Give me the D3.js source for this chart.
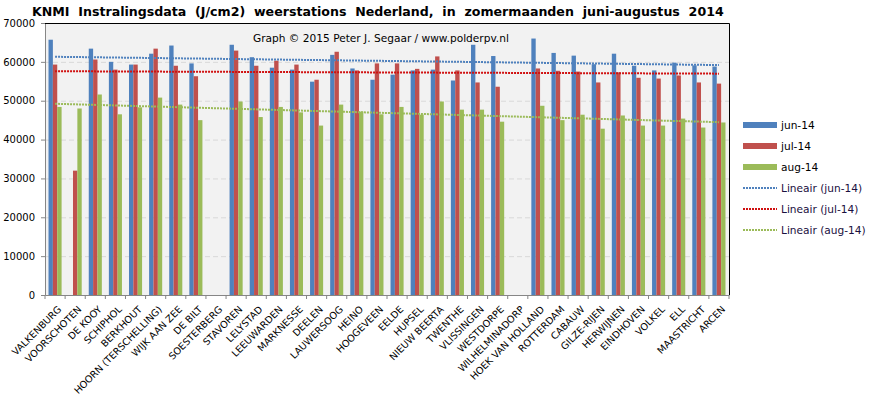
<!DOCTYPE html>
<html>
<head>
<meta charset="utf-8">
<script src="https://cdn.jsdelivr.net/npm/d3@7"></script>
<style>
  body { margin: 0; background: #fff; }
  svg text { font-family: "DejaVu Sans", Verdana, sans-serif; }
</style>
</head>
<body>
<div class="chart"></div>
<script>
// ---------------------------- DATA
var stations = ["VALKENBURG", "VOORSCHOTEN", "DE KOOY", "SCHIPHOL", "BERKHOUT", "HOORN (TERSCHELLING)",
  "WIJK AAN ZEE", "DE BILT", "SOESTERBERG", "STAVOREN", "LELYSTAD", "LEEUWARDEN", "MARKNESSE", "DEELEN",
  "LAUWERSOOG", "HEINO", "HOOGEVEEN", "EELDE", "HUPSEL", "NIEUW BEERTA", "TWENTHE", "VLISSINGEN",
  "WESTDORPE", "WILHELMINADORP", "HOEK VAN HOLLAND", "ROTTERDAM", "CABAUW", "GILZE-RIJEN", "HERWIJNEN",
  "EINDHOVEN", "VOLKEL", "ELL", "MAASTRICHT", "ARCEN"];

var jun14 = [65700, null, 63400, 60000, 59300, 62100, 64200, 59600, null, 64400, 61200, 58500, 58000, 54900,
  61800, 58300, 55400, 56700, 57800, 58000, 55200, 64400, 61500, null, 66000, 62300, 61600, 59400, 62100,
  59000, 57800, 59800, 59100, 58800];
var jul14 = [59300, 32000, 60600, 58000, 59300, 63400, 59000, 56300, null, 62900, 59000, 60300, 59300, 55400,
  62600, 57800, 59600, 59600, 58200, 61400, 57800, 54700, 53600, null, 58300, 57700, 57500, 54700, 57300,
  55900, 55700, 56500, 54700, 54400];
var aug14 = [48400, 48000, 51600, 46500, 48300, 50800, 49000, 45000, null, 49800, 45800, 48400, 47000, 43600,
  49000, 47200, 46500, 48400, 46400, 49800, 47700, 47700, 44600, null, 48700, 45000, 46400, 42800, 46200,
  43600, 43600, 45400, 43100, 44400];

var seriesNames = ["jun-14", "jul-14", "aug-14"];
var seriesColors = ["#4f81bd", "#c0504d", "#9bbb59"];
var trendColors = ["#4f81bd", "#d01010", "#9bbb59"];
var yTicks = [0, 10000, 20000, 30000, 40000, 50000, 60000, 70000];

var allSeries = [jun14, jul14, aug14];

// ---------------------------- SETUP
var width = 873, height = 396;
var plot = {left: 45, right: 729, top: 23, bottom: 295};

var svg = d3.select(".chart").append("svg")
  .attr("width", width)
  .attr("height", height);

var x0 = d3.scaleBand()
  .domain(stations)
  .range([plot.left, plot.right])
  .paddingInner(0.35)
  .paddingOuter(0.175);

var x1 = d3.scaleBand()
  .domain(seriesNames)
  .range([0, x0.bandwidth()]);

var y = d3.scaleLinear()
  .domain([0, 70000])
  .range([plot.bottom, plot.top]);

// plot background
svg.append("rect")
  .attr("x", plot.left).attr("y", plot.top)
  .attr("width", plot.right - plot.left).attr("height", plot.bottom - plot.top)
  .attr("fill", "#f2f2f2");

// gridlines
svg.append("g").selectAll("line")
  .data(yTicks.filter(function(d){ return d > 0 && d < 70000; }))
  .enter().append("line")
  .attr("x1", plot.left).attr("x2", plot.right)
  .attr("y1", function(d){ return y(d) + 0.5; })
  .attr("y2", function(d){ return y(d) + 0.5; })
  .attr("stroke", "#d9d9d9")
  .attr("stroke-dasharray", "5,3");

// watermark
svg.append("text")
  .attr("x", 253).attr("y", 42)
  .attr("font-size", "10.6px")
  .attr("fill", "#000")
  .text("Graph \u00a9 2015 Peter J. Segaar / www.polderpv.nl");

// ---------------------------- BARS
var groups = svg.append("g").selectAll("g")
  .data(stations)
  .enter().append("g")
  .attr("transform", function(d){ return "translate(" + x0(d) + ",0)"; });

groups.selectAll("rect")
  .data(function(d, i){
    return allSeries.map(function(s, k){ return {key: seriesNames[k], value: s[i], color: seriesColors[k]}; });
  })
  .enter().filter(function(d){ return d.value != null; })
  .append("rect")
  .attr("x", function(d){ return x1(d.key); })
  .attr("width", x1.bandwidth())
  .attr("y", function(d){ return y(d.value); })
  .attr("height", function(d){ return y(0) - y(d.value); })
  .attr("fill", function(d){ return d.color; });

// ---------------------------- TRENDLINES (least squares, blanks skipped)
function fit(arr){
  var pts = [];
  arr.forEach(function(v, i){ if (v != null) pts.push([i, v]); });
  var mx = d3.mean(pts, function(p){ return p[0]; });
  var my = d3.mean(pts, function(p){ return p[1]; });
  var num = d3.sum(pts, function(p){ return (p[0] - mx) * (p[1] - my); });
  var den = d3.sum(pts, function(p){ return (p[0] - mx) * (p[0] - mx); });
  var b = num / den;
  return function(i){ return my + b * (i - mx); };
}

var line = d3.line()
  .x(function(d){ return x0(stations[d.i]) + x0.bandwidth() / 2; })
  .y(function(d){ return y(d.v); });

allSeries.forEach(function(s, k){
  var f = fit(s);
  var n = stations.length - 1;
  svg.append("path")
    .attr("fill", "none")
    .attr("stroke", trendColors[k])
    .attr("stroke-width", 2)
    .attr("stroke-dasharray", "2,1")
    .attr("d", line([{i: 0, v: f(0)}, {i: n, v: f(n)}]));
});

// ---------------------------- AXES
var yAxis = d3.axisLeft(y).tickValues(yTicks).tickSize(4).tickPadding(6).tickFormat(d3.format("d"));
var gy = svg.append("g")
  .attr("transform", "translate(" + plot.left + ",0)")
  .call(yAxis);
gy.select(".domain").attr("stroke", "#868686");
gy.selectAll(".tick line").attr("stroke", "#868686");
gy.selectAll(".tick text").attr("font-size", "10px").attr("fill", "#000").attr("font-family", "DejaVu Sans");

var xAxis = d3.axisBottom(x0).tickSize(0).tickFormat("");
var gx = svg.append("g")
  .attr("transform", "translate(0," + plot.bottom + ")")
  .call(xAxis);
gx.select(".domain").attr("stroke", "#868686");

// category boundary ticks
var step = x0.step();
svg.append("g").selectAll("line")
  .data(d3.range(stations.length + 1))
  .enter().append("line")
  .attr("x1", function(i){ return plot.left + i * step; })
  .attr("x2", function(i){ return plot.left + i * step; })
  .attr("y1", plot.bottom).attr("y2", plot.bottom + 4)
  .attr("stroke", "#868686");

// rotated category labels
svg.append("g").selectAll("text")
  .data(stations)
  .enter().append("text")
  .attr("text-anchor", "end")
  .attr("font-size", "9.6px")
  .attr("fill", "#000")
  .attr("transform", function(d){
    var cx = x0(d) + x0.bandwidth() / 2 + 7;
    return "translate(" + cx + "," + (plot.bottom + 15) + ") rotate(-45)";
  })
  .text(function(d){ return d; });

// top and right frame
svg.append("path")
  .attr("fill", "none")
  .attr("stroke", "#000")
  .attr("stroke-width", 1)
  .attr("d", "M" + plot.left + "," + (plot.top + 0.5) + "H" + (plot.right + 0.5) + "V" + plot.bottom);

// ---------------------------- TITLE
svg.append("text")
  .attr("x", 32).attr("y", 16)
  .attr("font-size", "12.6px")
  .attr("font-weight", "bold")
  .attr("fill", "#000")
  .attr("xml:space", "preserve")
  .style("white-space", "pre")
  .text("KNMI  Instralingsdata  (J/cm2)  weerstations  Nederland,  in  zomermaanden  juni-augustus  2014");

// ---------------------------- LEGEND
var legendItems = seriesNames.map(function(n, k){ return {label: n, color: seriesColors[k], bar: true}; })
  .concat(seriesNames.map(function(n, k){ return {label: "Lineair (" + n + ")", color: trendColors[k], bar: false}; }));

var legend = svg.append("g").attr("transform", "translate(743,125)");
var li = legend.selectAll("g")
  .data(legendItems)
  .enter().append("g")
  .attr("transform", function(d, i){ return "translate(0," + (i * 21) + ")"; });

li.filter(function(d){ return d.bar; }).append("rect")
  .attr("x", 0).attr("y", -3).attr("width", 34).attr("height", 6)
  .attr("fill", function(d){ return d.color; });
li.filter(function(d){ return !d.bar; }).append("line")
  .attr("x1", 0).attr("x2", 34).attr("y1", 0).attr("y2", 0)
  .attr("stroke", function(d){ return d.color; })
  .attr("stroke-width", 2)
  .attr("stroke-dasharray", "2,1");
li.append("text")
  .attr("x", 38).attr("y", 4)
  .attr("font-size", "10.6px")
  .attr("fill", function(d){ return d.bar ? "#000" : "#1a1040"; })
  .text(function(d){ return d.label; });
</script>
</body>
</html>
